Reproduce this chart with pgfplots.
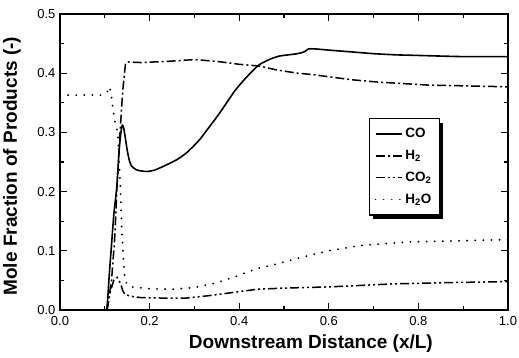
\documentclass[border=0pt]{standalone}
\usepackage{pgfplots}
\pgfplotsset{compat=1.18}
\usepackage{fontspec}
\setmainfont{Liberation Sans}
\begin{document}
\begin{tikzpicture}
\begin{axis}[
  scale only axis, width=448pt, height=296pt,
  xmin=0, xmax=1, ymin=0, ymax=0.5,
  xtick={0,0.2,...,1.0}, ytick={0,0.1,...,0.5},
  minor x tick num=1, minor y tick num=1,
  tick align=inside, major tick length=7pt, minor tick length=4pt,
  tick style={line width=1.3pt, black},
  axis line style={line width=1.6pt},
  /pgf/number format/.cd, fixed, fixed zerofill, precision=1, assume math mode=true,
  /pgfplots/.cd,
  ticklabel style={font=\fontsize{13}{15}\selectfont},
  xticklabel style={yshift=-3pt},
  yticklabel style={xshift=-1pt},
  xlabel={Downstream Distance (x/L)},
  ylabel={Mole Fraction of Products (-)},
  every axis x label/.style={at={(axis description cs:0.56,-0.115)}, anchor=center, font=\bfseries\fontsize{19}{22}\selectfont},
  every axis y label/.style={at={(axis description cs:-0.107,0.486)}, rotate=90, anchor=center, font=\bfseries\fontsize{19}{22}\selectfont},
  legend style={name=leg, at={(rel axis cs:0.69,0.649)}, anchor=north west, draw=black, line width=1.3pt,
    fill=white, font=\bfseries\fontsize{13.5}{16}\selectfont, row sep=7pt, inner xsep=5pt, inner ysep=8pt,
    nodes={inner xsep=3pt}},
  legend cell align=left,
  legend image code/.code={\draw[#1, line width=1.5pt] (0pt,0pt) -- (26pt,0pt);},
]
% CO
\addplot[black, line width=1.6pt, smooth, tension=0.4] coordinates {
(0.100,0)(0.105,0.005)(0.110,0.06)(0.115,0.11)(0.120,0.16)(0.127,0.21)(0.132,0.27)(0.136,0.30)(0.139,0.312)(0.142,0.308)(0.146,0.29)(0.150,0.27)(0.155,0.252)(0.160,0.243)(0.170,0.237)(0.180,0.235)(0.194,0.234)(0.21,0.236)(0.223,0.240)(0.24,0.246)(0.261,0.254)(0.28,0.264)(0.297,0.276)(0.313,0.289)(0.328,0.304)(0.35,0.326)(0.372,0.35)(0.39,0.37)(0.41,0.388)(0.43,0.404)(0.446,0.415)(0.47,0.424)(0.49,0.429)(0.51,0.431)(0.53,0.433)(0.545,0.436)(0.555,0.441)(0.57,0.441)(0.60,0.439)(0.65,0.436)(0.70,0.433)(0.75,0.431)(0.80,0.430)(0.90,0.428)(1.0,0.428)
};
\addlegendentry{CO}
% H2
\addplot[black, line width=1.5pt, dash pattern=on 9pt off 3pt on 2pt off 3pt] coordinates {
(0.105,0)(0.115,0.05)(0.122,0.12)(0.128,0.22)(0.134,0.30)(0.140,0.37)(0.146,0.415)(0.150,0.419)(0.18,0.418)(0.24,0.42)(0.30,0.423)(0.35,0.420)(0.40,0.415)(0.446,0.412)(0.48,0.406)(0.53,0.400)(0.56,0.398)(0.60,0.394)(0.65,0.389)(0.71,0.385)(0.82,0.380)(1.0,0.377)
};
\addlegendentry{H\textsubscript{2}}
% CO2
\addplot[black, line width=1.5pt, dash pattern=on 9pt off 3pt on 2pt off 3pt on 2pt off 3pt] coordinates {
(0.105,0)(0.112,0.03)(0.120,0.05)(0.128,0.055)(0.135,0.045)(0.140,0.033)(0.145,0.026)(0.16,0.023)(0.18,0.021)(0.24,0.02)(0.28,0.02)(0.33,0.024)(0.39,0.03)(0.44,0.035)(0.5,0.037)(0.6,0.039)(0.74,0.044)(0.85,0.046)(1.0,0.048)
};
\addlegendentry{CO\textsubscript{2}}
% H2O
\addplot[black, line width=2pt, line cap=round, dash pattern=on 0.1pt off 8pt] coordinates {
(0,0.363)(0.095,0.363)(0.105,0.368)(0.111,0.377)(0.115,0.36)(0.118,0.34)(0.122,0.32)(0.129,0.30)(0.134,0.22)(0.138,0.135)(0.142,0.08)(0.145,0.05)(0.152,0.042)(0.16,0.039)(0.2,0.036)(0.25,0.035)(0.3,0.038)(0.35,0.046)(0.39,0.056)(0.44,0.07)(0.48,0.077)(0.52,0.085)(0.56,0.093)(0.6,0.1)(0.67,0.109)(0.78,0.115)(0.9,0.117)(1.0,0.119)
};
\addlegendentry{H\textsubscript{2}O}
\end{axis}
\draw[line width=3pt] ([xshift=1.5pt,yshift=-5pt]leg.north east) -- ([xshift=1.5pt,yshift=-1.5pt]leg.south east) -- ([xshift=4pt,yshift=-1.5pt]leg.south west);
\pgfresetboundingbox
\path[use as bounding box] (-60pt,-48pt) rectangle (459pt,310pt);
\end{tikzpicture}
\end{document}
